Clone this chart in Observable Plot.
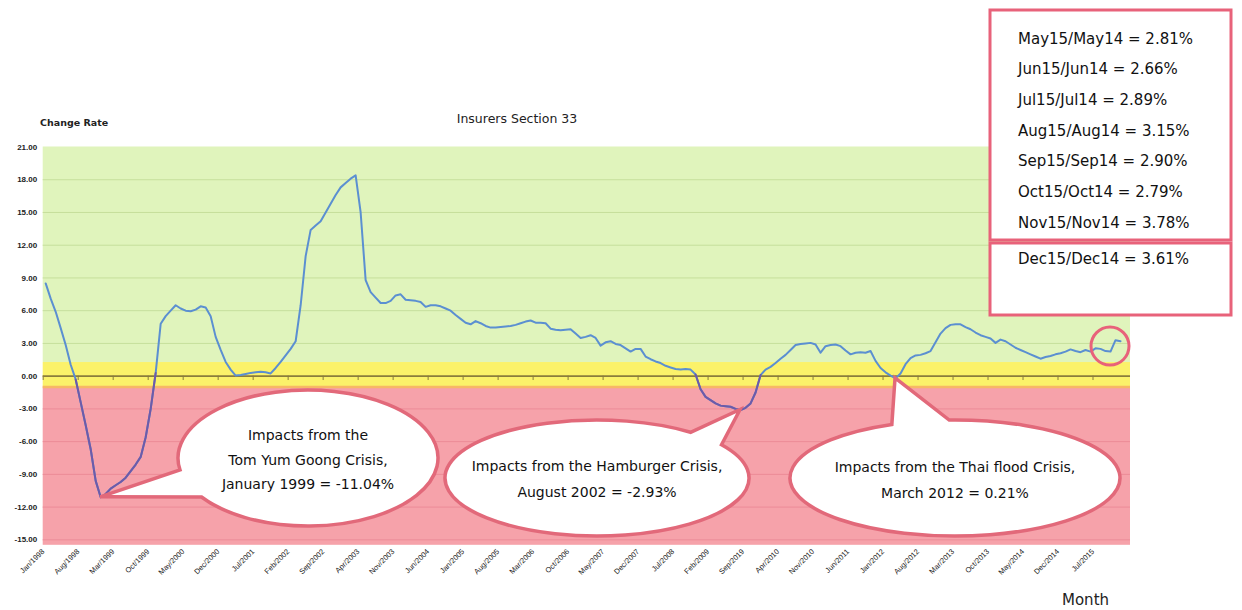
<!DOCTYPE html>
<html>
<head>
<meta charset="utf-8">
<script src="https://cdn.jsdelivr.net/npm/d3@7"></script>
<script src="https://cdn.jsdelivr.net/npm/@observablehq/plot@0.6"></script>
<style>
  html, body { margin: 0; padding: 0; background: #fff; }
  #chart { position: relative; width: 1242px; height: 610px; }
</style>
</head>
<body>
<div id="chart"></div>
<script>
// ---- data (monthly change rate, Jan 1998 .. Dec 2015) ----
const changeRate = [
  8.5, 7.1, 5.9, 4.4, 2.85, 1.05, -0.3, -2.4, -4.5, -6.7, -9.6, -11.1,          // 1998
  -10.8, -10.3, -10.0, -9.7, -9.3, -8.7, -8.1, -7.4, -5.6, -3.0, 0.3, 4.8,      // 1999
  5.5, 6.0, 6.5, 6.2, 6.0, 5.95, 6.1, 6.4, 6.3, 5.5, 3.6, 2.4,                  // 2000
  1.3, 0.6, 0.05, 0.1, 0.2, 0.3, 0.35, 0.4, 0.35, 0.25, 0.75, 1.3,              // 2001
  1.9, 2.5, 3.2, 6.5, 11.0, 13.4, 13.8, 14.2, 15.0, 15.8, 16.6, 17.3,           // 2002
  17.7, 18.1, 18.4, 15.0, 8.8, 7.7, 7.2, 6.7, 6.7, 6.9, 7.4, 7.5,               // 2003
  7.0, 6.95, 6.9, 6.8, 6.35, 6.5, 6.5, 6.4, 6.2, 6.0, 5.6, 5.25,                // 2004
  4.9, 4.75, 5.05, 4.85, 4.6, 4.45, 4.45, 4.5, 4.55, 4.6, 4.7, 4.85,            // 2005
  5.0, 5.1, 4.9, 4.9, 4.85, 4.35, 4.25, 4.2, 4.25, 4.3, 3.9, 3.5,               // 2006
  3.6, 3.75, 3.5, 2.8, 3.1, 3.2, 2.95, 2.85, 2.55, 2.25, 2.5, 2.5,              // 2007
  1.8, 1.55, 1.35, 1.2, 0.95, 0.8, 0.65, 0.6, 0.65, 0.6, 0.15, -1.2,            // 2008
  -1.9, -2.2, -2.5, -2.7, -2.75, -2.8, -3.0, -3.1, -2.9, -2.5, -1.5, 0.1,       // 2009
  0.6, 0.85, 1.2, 1.6, 1.95, 2.4, 2.85, 2.95, 3.0, 3.05, 2.9, 2.15,             // 2010
  2.75, 2.85, 2.9, 2.75, 2.35, 2.0, 2.15, 2.2, 2.15, 2.3, 1.4, 0.75,            // 2011
  0.35, 0.05, -0.2, 0.25, 1.1, 1.65, 1.9, 1.95, 2.1, 2.3, 3.1, 3.9,             // 2012
  4.4, 4.7, 4.75, 4.75, 4.5, 4.3, 4.0, 3.75, 3.6, 3.45, 3.05, 3.35,             // 2013
  3.2, 2.9, 2.6, 2.4, 2.2, 2.0, 1.8, 1.6, 1.75, 1.85, 2.0, 2.1,                 // 2014
  2.25, 2.45, 2.3, 2.2, 2.4, 2.25, 2.55, 2.5, 2.3, 2.25, 3.3, 3.2               // 2015
];

const tickLabels = [
  "Jan/1998", "Aug/1998", "Mar/1999", "Oct/1999", "May/2000", "Dec/2000", "Jul/2001",
  "Feb/2002", "Sep/2002", "Apr/2003", "Nov/2003", "Jun/2004", "Jan/2005", "Aug/2005",
  "Mar/2006", "Oct/2006", "May/2007", "Dec/2007", "Jul/2008", "Feb/2009", "Sep/2019",
  "Apr/2010", "Nov/2010", "Jun/2011", "Jan/2012", "Aug/2012", "Mar/2013", "Oct/2013",
  "May/2014", "Dec/2014", "Jul/2015"
];
const tickStepMonths = 7;

const yTicks = [-15, -12, -9, -6, -3, 0, 3, 6, 9, 12, 15, 18, 21];
const yDomain = [-15.5, 21];
const xDomain = [-0.5, 217];

// zone limits: red below, yellow band around zero, green above
const zoneLimits = [-15.5, -1.0, 1.25, 21];

const chartTitle = "Insurers Section 33";
const yAxisTitle = "Change Rate";
const xAxisTitle = "Month";

const boxLinesTop = [
  "May15/May14 = 2.81%",
  "Jun15/Jun14 = 2.66%",
  "Jul15/Jul14 = 2.89%",
  "Aug15/Aug14 = 3.15%",
  "Sep15/Sep14 = 2.90%",
  "Oct15/Oct14 = 2.79%",
  "Nov15/Nov14 = 3.78%"
];
const boxLinesBottom = ["Dec15/Dec14 = 3.61%"];

const callout1Text = ["Impacts from the", "Tom Yum Goong Crisis,", "January 1999 = -11.04%"];
const callout2Text = ["Impacts from the Hamburger Crisis,", "August 2002 = -2.93%"];
const callout3Text = ["Impacts from the Thai flood Crisis,", "March 2012 = 0.21%"];
const calloutMonths = [11, 139, 170];   // data points the callouts point at

// ---- build ----
const data = changeRate.map((v, i) => ({m: i, v}));
const tickPos = tickLabels.map((_, k) => tickStepMonths * k - 0.5);
const zones = [
  {lo: zoneLimits[0], hi: zoneLimits[1], fill: "#f6a2aa"},
  {lo: zoneLimits[1], hi: zoneLimits[2], fill: "#fbf26a"},
  {lo: zoneLimits[2], hi: zoneLimits[3], fill: "#e0f4bc"}
];
const isNeg = i => changeRate[i] < zoneLimits[1] ||
  (i > 0 && changeRate[i - 1] < zoneLimits[1]) ||
  (i < changeRate.length - 1 && changeRate[i + 1] < zoneLimits[1]);

const chart = Plot.plot({
  width: 1242,
  height: 610,
  marginTop: 146.5,
  marginBottom: 65.2,
  marginLeft: 42.7,
  marginRight: 112,
  x: {type: "linear", domain: xDomain},
  y: {type: "linear", domain: yDomain},
  color: {type: "identity"},
  style: {background: "white", fontFamily: "'Liberation Sans', Arial, sans-serif", overflow: "visible"},
  marks: [
    Plot.rect(zones, {x1: () => xDomain[0], x2: () => xDomain[1], y1: "lo", y2: "hi", fill: "fill"}),
    Plot.ruleY(yTicks.filter(t => t > zoneLimits[2] && t < zoneLimits[3]), {stroke: "#c6df9c", strokeWidth: 1}),
    Plot.ruleY(yTicks.filter(t => t < zoneLimits[1]), {stroke: "#ec8c97", strokeWidth: 1}),
    Plot.ruleY([zoneLimits[1]], {stroke: "#f7b865", strokeWidth: 2.5}),
    Plot.ruleY([0], {stroke: "#8b7d3c", strokeWidth: 1.6}),
    Plot.ruleX(tickPos, {y1: () => 0, y2: () => -0.4, stroke: "#8b7d3c", strokeWidth: 1}),
    Plot.line(data, {x: "m", y: "v", stroke: "#5b8fd1", strokeWidth: 2}),
    Plot.line(data, {x: "m", y: d => isNeg(d.m) ? d.v : NaN, stroke: "#6e5aa8", strokeWidth: 2}),
    Plot.axisY(yTicks, {tickSize: 0, tickPadding: 6, tickFormat: d => d.toFixed(2), fontSize: 8, fontWeight: "bold", fill: "#222", label: null}),
    Plot.axisX(tickPos, {tickSize: 0, tickPadding: 5, tickRotate: -45, fontSize: 7.5, fill: "#222",
      tickFormat: d => tickLabels[Math.round((d + 0.5) / tickStepMonths)], label: null})
  ]
});
document.getElementById("chart").appendChild(chart);

// ---- annotations ----
const svg = d3.select(chart);
const sx = chart.scale("x"), sy = chart.scale("y");
const px = m => sx.apply(m), py = v => sy.apply(v);
const annFont = "'DejaVu Sans', Tahoma, sans-serif";
const pink = "#e2697a";

// titles
svg.append("text").attr("x", 40).attr("y", 126).attr("text-anchor", "start").text(yAxisTitle)
  .attr("font-family", annFont).attr("font-size", 9.5).attr("font-weight", "bold").attr("fill", "#222");
svg.append("text").attr("x", 517).attr("y", 123).attr("text-anchor", "middle").text(chartTitle)
  .attr("font-family", annFont).attr("font-size", 12.5).attr("fill", "#222");
svg.append("text").attr("x", 1062).attr("y", 605).attr("text-anchor", "start").text(xAxisTitle)
  .attr("font-family", annFont).attr("font-size", 15).attr("fill", "#222");

// callouts
function calloutPath(cx, cy, rx, ry, tx, ty, a1, a2) {
  const P = a => [cx + rx * Math.cos(a * Math.PI / 180), cy + ry * Math.sin(a * Math.PI / 180)];
  const [x1, y1] = P(a1), [x2, y2] = P(a2);
  return `M${tx},${ty}L${x1},${y1}A${rx},${ry} 0 1 1 ${x2},${y2}Z`;
}
const callouts = [
  {cx: 308, cy: 458, rx: 130, ry: 68, a1: 170, a2: 145, lines: callout1Text, y0: 440, dy: 24.5, m: calloutMonths[0]},
  {cx: 597, cy: 478, rx: 152, ry: 58, a1: 325, a2: 308, lines: callout2Text, y0: 471, dy: 26, m: calloutMonths[1]},
  {cx: 955, cy: 478, rx: 165, ry: 58, a1: 268, a2: 247.5, lines: callout3Text, y0: 472, dy: 26, m: calloutMonths[2]}
];
for (const c of callouts) {
  const tx = px(c.m), ty = py(changeRate[c.m]);
  svg.append("path").attr("d", calloutPath(c.cx, c.cy, c.rx, c.ry, tx, ty, c.a1, c.a2))
    .attr("fill", "white").attr("stroke", pink).attr("stroke-width", 3.5).attr("stroke-linejoin", "miter");
  c.lines.forEach((t, i) => {
    svg.append("text").attr("x", c.cx).attr("y", c.y0 + i * c.dy).attr("text-anchor", "middle")
      .attr("font-family", annFont).attr("font-size", 14).attr("fill", "#111").text(t);
  });
}

// highlight circle around the latest months
const last = data.slice(-5);
const ccx = px(d3.mean(last, d => d.m)), ccy = py(d3.mean(last, d => d.v));
svg.append("circle").attr("cx", ccx).attr("cy", ccy).attr("r", 19)
  .attr("fill", "none").attr("stroke", "#e8627a").attr("stroke-width", 3);

// value box
svg.append("rect").attr("x", 990).attr("y", 10).attr("width", 241).attr("height", 230)
  .attr("fill", "white").attr("stroke", "#e8627a").attr("stroke-width", 3);
svg.append("rect").attr("x", 990).attr("y", 243).attr("width", 241).attr("height", 72)
  .attr("fill", "white").attr("stroke", "#e8627a").attr("stroke-width", 3);
boxLinesTop.forEach((t, i) => {
  svg.append("text").attr("x", 1018).attr("y", 43.5 + i * 30.7).attr("text-anchor", "start").text(t)
    .attr("font-family", annFont).attr("font-size", 15).attr("fill", "#111");
});
boxLinesBottom.forEach((t, i) => {
  svg.append("text").attr("x", 1018).attr("y", 263.5 + i * 30.7).attr("text-anchor", "start").text(t)
    .attr("font-family", annFont).attr("font-size", 15).attr("fill", "#111");
});
</script>
</body>
</html>
